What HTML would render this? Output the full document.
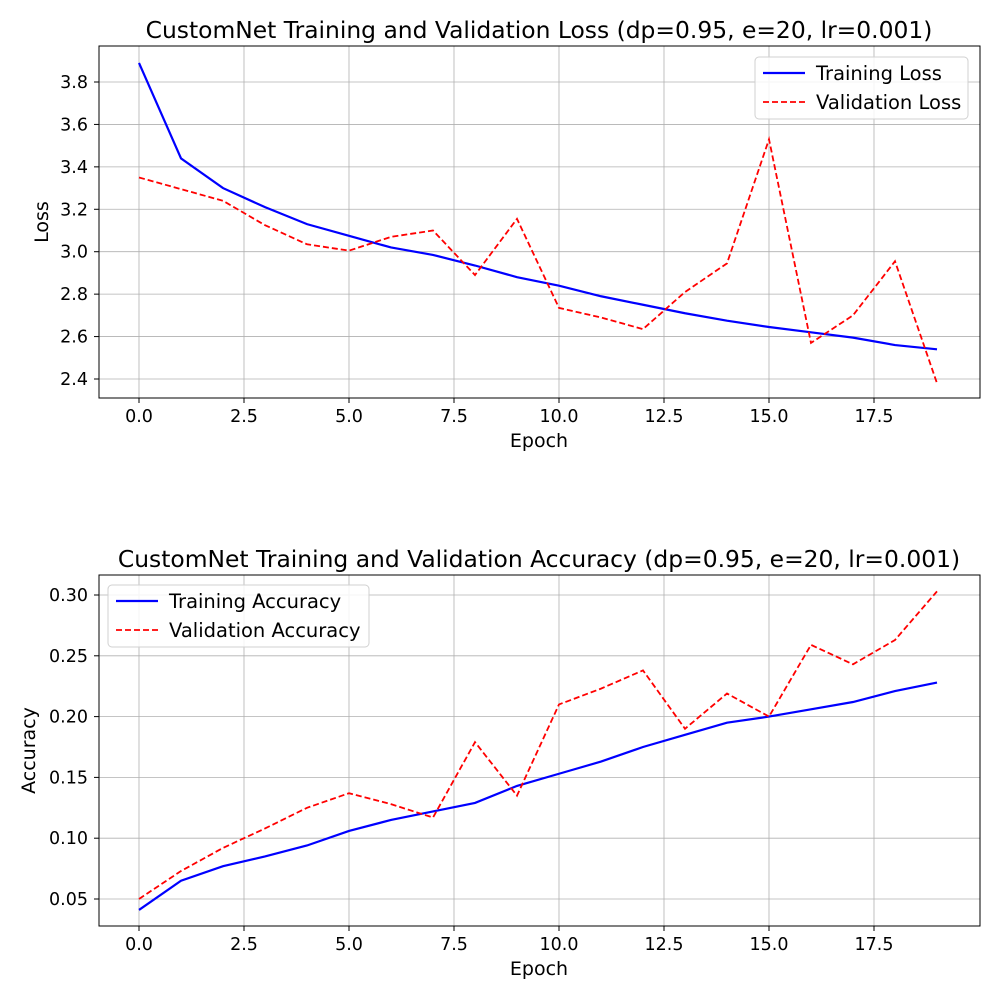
<!DOCTYPE html>
<html><head><meta charset="utf-8"><style>
body{margin:0;background:#fff}
svg{display:block;font-family:"DejaVu Sans","Liberation Sans",sans-serif}
</style></head><body>
<svg id="c" width="1000" height="1000" viewBox="0 0 1000 1000"></svg>
<script>
const epochs = [0,1,2,3,4,5,6,7,8,9,10,11,12,13,14,15,16,17,18,19];
const trainLoss = [3.89,3.44,3.30,3.21,3.13,3.075,3.02,2.985,2.935,2.88,2.84,2.79,2.75,2.71,2.675,2.645,2.62,2.595,2.56,2.54];
const valLoss = [3.35,3.295,3.24,3.125,3.035,3.005,3.07,3.10,2.89,3.155,2.735,2.69,2.635,2.81,2.945,3.53,2.57,2.70,2.955,2.38];
const trainAcc = [0.041,0.065,0.077,0.085,0.094,0.106,0.115,0.122,0.129,0.143,0.153,0.163,0.175,0.185,0.195,0.200,0.206,0.212,0.221,0.228];
const valAcc = [0.050,0.073,0.092,0.108,0.125,0.137,0.128,0.117,0.179,0.135,0.210,0.223,0.238,0.190,0.219,0.200,0.259,0.243,0.263,0.303];
const xTicks = [0,2.5,5,7.5,10,12.5,15,17.5];
const lossTicks = [2.4,2.6,2.8,3.0,3.2,3.4,3.6,3.8];
const accTicks = [0.05,0.10,0.15,0.20,0.25,0.30];

const svg = document.getElementById('c');
const NS = 'http://www.w3.org/2000/svg';
function mk(tag, attrs, parent){const e=document.createElementNS(NS,tag);for(const k in attrs)e.setAttribute(k,attrs[k]);(parent||svg).appendChild(e);return e;}

function panel(o){
  const g = mk('g',{});
  
  
  const X = v => 139 + v*42;
  const Y = v => o.y0 + (v - o.v0) * o.k;
  xTicks.forEach(t=>{
    const l = mk('line',{x1:X(t),x2:X(t),y1:o.top,y2:o.bot,stroke:'#b0b0b0','stroke-width':0.8},g);
    
    
    mk('line',{x1:X(t),x2:X(t),y1:o.bot,y2:o.bot+5,stroke:'#000'},g);
    const tx = mk('text',{x:X(t),y:o.bot+24,'text-anchor':'middle','font-size':17.5},g);
    tx.textContent = t.toFixed(1);
    
    
  });
  o.ticks.forEach(t=>{
    mk('line',{x1:99,x2:980,y1:Y(t),y2:Y(t),stroke:'#b0b0b0','stroke-width':0.8},g);
    mk('line',{x1:94,x2:99,y1:Y(t),y2:Y(t),stroke:'#000'},g);
    const tx = mk('text',{x:88,y:Y(t)+6,'text-anchor':'end','font-size':17.5},g);
    tx.textContent = t.toFixed(o.dec);
    
    
  });
  const p1 = mk('polyline',{points:epochs.map((e,i)=>X(e)+','+Y(o.a[i])).join(' '),fill:'none',stroke:'#0000ff','stroke-width':2.2},g);
  
  
  const p2 = mk('polyline',{points:epochs.map((e,i)=>X(e)+','+Y(o.b[i])).join(' '),fill:'none',stroke:'#ff0000','stroke-width':1.8,'stroke-dasharray':'6,3'},g);
  
  
  mk('rect',{x:99,y:o.top,width:881,height:o.bot-o.top,fill:'none',stroke:'#000','stroke-width':1},g);
  const t = mk('text',{x:539,y:o.top-8,'text-anchor':'middle','font-size':23.4},g);
  t.textContent = o.title;
  
  
  const xl = mk('text',{x:539,y:o.bot+49,'text-anchor':'middle','font-size':19},g);
  xl.textContent='Epoch';
  
  
  const yl = mk('text',{x:0,y:0,'text-anchor':'middle','font-size':19,transform:`translate(${o.ylx},${(o.top+o.bot)/2}) rotate(-90)`},g);
  yl.textContent=o.ylabel;
  
  
  const lg = mk('g',{},g);
  
  
  mk('rect',{x:o.lx,y:o.ly,width:o.lw,height:62,rx:4,fill:'#fff','fill-opacity':0.85,stroke:'#d0d0d0'},lg);
  mk('line',{x1:o.lx+8,x2:o.lx+50,y1:o.ly+16,y2:o.ly+16,stroke:'#0000ff','stroke-width':2.2},lg);
  mk('line',{x1:o.lx+8,x2:o.lx+50,y1:o.ly+45,y2:o.ly+45,stroke:'#ff0000','stroke-width':1.8,'stroke-dasharray':'6,3'},lg);
  const a = mk('text',{x:o.lx+61,y:o.ly+23,'font-size':19.5},lg); a.textContent=o.la;
  const b = mk('text',{x:o.lx+61,y:o.ly+52,'font-size':19.5},lg); b.textContent=o.lb;
}
panel({name:'loss-panel',top:46,bot:398,y0:82,v0:3.8,k:-212.14,ticks:lossTicks,dec:1,a:trainLoss,b:valLoss,
  title:'CustomNet Training and Validation Loss (dp=0.95, e=20, lr=0.001)',ylabel:'Loss',ylx:48,
  lx:755,ly:57,lw:213,la:'Training Loss',lb:'Validation Loss'});
panel({name:'accuracy-panel',top:575,bot:926,y0:899,v0:0.05,k:-1216,ticks:accTicks,dec:2,a:trainAcc,b:valAcc,
  title:'CustomNet Training and Validation Accuracy (dp=0.95, e=20, lr=0.001)',ylabel:'Accuracy',ylx:35,
  lx:108,ly:585,lw:261,la:'Training Accuracy',lb:'Validation Accuracy'});
</script>
</body></html>
